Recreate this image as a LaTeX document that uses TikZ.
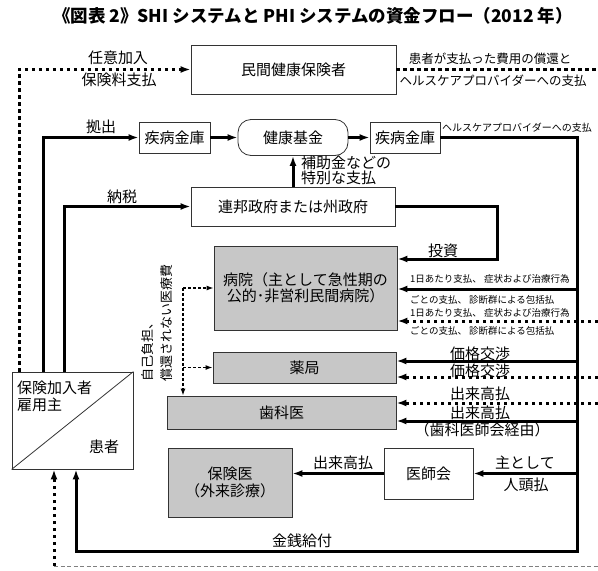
\documentclass[tikz,border=0pt]{standalone}
\usepackage{fontspec}
\setmainfont{Noto Sans CJK JP}
\usetikzlibrary{arrows.meta,positioning}

\begin{document}
\begin{tikzpicture}[x=1pt,y=-1pt,>={Latex[length=10pt,width=7pt]},
        every node/.style={font=\fontsize{15}{17}\selectfont,inner sep=0pt},
        box/.style={rectangle,draw=black!80,line width=0.8pt,fill=white},
        gbox/.style={box,fill=black!22},
        thk/.style={line width=3pt},
        dots/.style={line width=3pt,dash pattern=on 3.5pt off 3.5pt},
        selfpay/.style={line width=1.2pt,dash pattern=on 3pt off 2pt,>={Latex[length=7pt,width=5pt]}},
        small/.style={font=\fontsize{9.5}{11}\selectfont,anchor=west},
        mid/.style={font=\fontsize{12.5}{14}\selectfont}]
        \useasboundingbox (0,0) rectangle (598,571);

        \node[font=\bfseries\fontsize{17.5}{20}\selectfont] (title) at (313,16) {《図表 2》SHI システムと PHI システムの資金フロー（2012 年）};

        \node[box,minimum width=205pt,minimum height=49pt] (priv) at (293.5,69.5) {民間健康保険者};
        \node[box,minimum width=71pt,minimum height=31pt] (kasse1) at (174.5,137.5) {疾病金庫};
        \node[box,rounded corners=13pt,minimum width=110pt,minimum height=36pt] (fund) at (293,137.5) {健康基金};
        \node[box,minimum width=70pt,minimum height=31pt] (kasse2) at (405,137.5) {疾病金庫};
        \node[box,minimum width=204pt,minimum height=39pt] (gov) at (293,206.5) {連邦政府または州政府};
        \node[gbox,minimum width=183pt,minimum height=84pt,align=center,font=\fontsize{15}{16}\selectfont] (hosp) at (305.5,288) {病院（主として急性期の\\公的･非営利民間病院）};
        \node[gbox,minimum width=183pt,minimum height=31pt] (pharm) at (304.5,367.5) {薬局};
        \node[gbox,minimum width=229pt,minimum height=33pt] (dent) at (281.5,412.5) {歯科医};
        \node[gbox,minimum width=124pt,minimum height=69pt,align=center] (insdoc) at (230,482.5) {保険医\\（外来診療）};
        \node[box,minimum width=89pt,minimum height=51pt] (assoc) at (428.5,473.5) {医師会};
        \node[box,minimum width=121pt,minimum height=97pt] (pat) at (72.5,420.5) {};
        \draw[black!80,line width=0.8pt] (pat.south west) -- (pat.north east);
        \node[anchor=west,align=left,font=\fontsize{15}{17}\selectfont] (lnins) at (17,396) {保険加入者\\雇用主};
        \node (lnpat) at (104,447) {患者};

        \draw[dots,->] ([xshift=-53.5pt]pat.north) |- (priv.west);
        \coordinate (dpriv) at (598,69.5);
        \draw[dots] (priv.east) -- (dpriv);
        \draw[thk,->] ([xshift=-29.5pt]pat.north) |- (kasse1.west);
        \draw[thk,->] ([xshift=-8.5pt]pat.north) |- (gov.west);
        \draw[thk,->] (kasse1) -- (fund);
        \draw[thk,->] (fund) -- (kasse2);
        \draw[thk,->] (gov) -- (fund);
        \coordinate (inv) at (497,259);
        \draw[thk,->] (gov.east) -| (inv) -- (inv -| hosp.east);

        \coordinate (rbot) at (577,551);
        \draw[thk,->] (kasse2.east) -| (rbot) -| ([xshift=3.5pt]pat.south);
        \foreach \yy/\tgt in {289/hosp,361/pharm,421/dent,473.5/assoc} {
            \coordinate (b\tgt) at (577,\yy);
            \draw[thk,->] (b\tgt) -- (b\tgt -| \tgt.east);
        }
        \foreach \yy/\tgt in {321/hosp,377/pharm,403/dent} {
            \coordinate (d\tgt) at (598,\yy);
            \draw[dots,->] (d\tgt) -- (d\tgt -| \tgt.east);
        }
        \draw[thk,->] (assoc) -- (assoc -| insdoc.east);

        \coordinate (pbot) at (54,566);
        \coordinate (redge) at (598,566);
        \draw[black!50,line width=0.8pt,dash pattern=on 4pt off 2.5pt] (pbot) -- (redge);
        \draw[dots,->] (pbot) -- ([xshift=-18.5pt]pat.south);

        \coordinate (sp) at (183,288);
        \coordinate (sp2) at (183,367.5);
        \draw[selfpay,->] (sp) -- (hosp.west);
        \draw[selfpay,->] (sp) -- (sp |- dent.north);
        \draw[selfpay,->] (sp2) -- (pharm.west);

        \node (lnnin) at (118,58) {任意加入};
        \node (lnhok) at (119,80) {保険料支払};
        \node[mid] (lnsyo) at (490,59) {患者が支払った費用の償還と};
        \node[mid] (lnhcp) at (493,81) {ヘルスケアプロバイダーへの支払};
        \node[small,font=\fontsize{10}{11}\selectfont] (lnpay) at (442,128) {ヘルスケアプロバイダーへの支払};
        \node (lnkyo) at (101,127) {拠出};
        \node (lnnz) at (122,197) {納税};
        \node[anchor=west,align=left,font=\fontsize{15}{15}\selectfont] (lnsub) at (301,170.5) {補助金などの\\特別な支払};
        \node (lninv) at (443,251) {投資};
        \node[small] (lnpd1) at (410,279) {1日あたり支払、 症状および治療行為};
        \node[small] (lnpd2) at (410,300) {ごとの支払、 診断群による包括払};
        \node[small] (lnpd3) at (410,313) {1日あたり支払、 症状および治療行為};
        \node[small] (lnpd4) at (410,331) {ごとの支払、 診断群による包括払};
        \node (lnkk1) at (480,354) {価格交渉};
        \node (lnkk2) at (480,371) {価格交渉};
        \node (lnde1) at (480,394) {出来高払};
        \node (lnde2) at (480,413) {出来高払};
        \node (lnvia) at (482,430) {（歯科医師会経由）};
        \node (lnmain) at (525,463) {主として};
        \node (lnhead) at (526,485) {人頭払};
        \node (lnffs) at (343,463) {出来高払};
        \node (lncash) at (302,541) {金銭給付};
        \node[rotate=90,align=left,font=\fontsize{13}{19}\selectfont] (lnself) at (157,323) {自己負担、\\償還されない医療費};
\end{tikzpicture}
\end{document}
